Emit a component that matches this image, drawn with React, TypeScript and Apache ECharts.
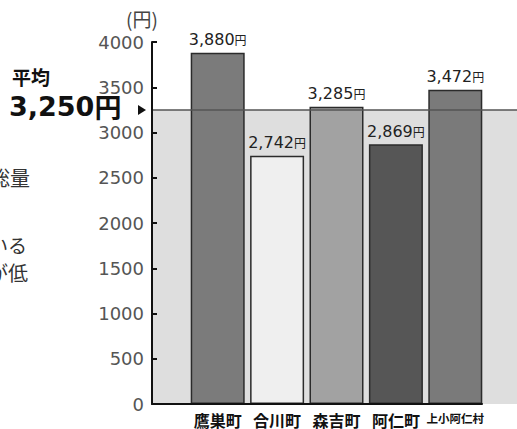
import React, { useEffect, useRef } from "react";
import * as echarts from "echarts";

// Monthly price per town (円)
const categories = ["鷹巣町", "合川町", "森吉町", "阿仁町", "上小阿仁村"];
const prices = [3880, 2742, 3285, 2869, 3472];
const barColors = ["#7b7b7b", "#efefef", "#a2a2a2", "#565656", "#7a7a7a"];
const average = 3250;
const yMin = 0;
const yMax = 4000;
const yInterval = 500;

const fmt = (v: number) => v.toLocaleString("en-US");

const CJK = "'Noto Sans CJK JP', sans-serif";
const NUM = "'DejaVu Sans', sans-serif";

export default function App() {
  const ref = useRef<HTMLDivElement>(null);

  useEffect(() => {
    if (!ref.current) return;
    const chart = echarts.init(ref.current, undefined, { renderer: "svg" });

    const top = 42;
    const bottom = 25;

    chart.setOption({
      animation: false,
      backgroundColor: "#ffffff",
      grid: [
        { left: 152, right: 0, top, bottom },
        { left: 152, right: 35, top, bottom },
        { left: 188, width: 297, top, bottom },
      ],
      xAxis: [
        { gridIndex: 0, type: "value", min: 0, max: 1, show: false },
        {
          gridIndex: 1,
          type: "value",
          min: 0,
          max: 1,
          z: 5,
          axisLine: { show: true, lineStyle: { color: "#111", width: 2 } },
          axisTick: { show: false },
          axisLabel: { show: false },
          splitLine: { show: false },
        },
        {
          gridIndex: 2,
          type: "category",
          data: categories,
          axisLine: { show: false },
          axisTick: { show: false },
          axisLabel: {
            margin: 8,
            interval: 0,
            fontFamily: CJK,
            fontSize: 16,
            fontWeight: "bold",
            color: "#111",
            formatter: (v: string) => (v.length > 4 ? `{s|${v}}` : v),
            rich: {
              s: { fontFamily: CJK, fontSize: 11.5, fontWeight: "bold", color: "#111" },
            },
          },
        },
      ],
      yAxis: [
        {
          gridIndex: 0,
          type: "value",
          min: yMin,
          max: yMax,
          interval: yInterval,
          z: 5,
          axisLine: { show: true, lineStyle: { color: "#111", width: 2 } },
          axisTick: { show: true, inside: true, length: 5, lineStyle: { color: "#111", width: 2 } },
          axisLabel: {
            fontFamily: NUM,
            fontSize: 18,
            lineHeight: 14,
            color: "#555",
            margin: 8,
            formatter: (v: number) => String(v),
          },
          splitLine: { show: false },
        },
        { gridIndex: 1, type: "value", min: yMin, max: yMax, show: false },
        { gridIndex: 2, type: "value", min: yMin, max: yMax, show: false },
      ],
      series: [
        {
          type: "line",
          xAxisIndex: 0,
          yAxisIndex: 0,
          data: [],
          markArea: {
            silent: true,
            itemStyle: { color: "#dedede" },
            data: [[{ yAxis: yMin }, { yAxis: average }]],
          },
          markLine: {
            silent: true,
            symbol: "none",
            label: { show: false },
            lineStyle: { color: "#555", width: 1.5, type: "solid" },
            data: [{ yAxis: average }],
          },
        },
        {
          type: "bar",
          xAxisIndex: 2,
          yAxisIndex: 2,
          barWidth: 54,
          data: prices.map((v, i) => ({ value: v, itemStyle: { color: barColors[i] } })),
          itemStyle: { borderColor: "#2b2b2b", borderWidth: 1.5 },
          label: {
            show: true,
            position: "top",
            distance: 5,
            formatter: (p: any) => `{n|${fmt(p.value)}}{u|円}`,
            rich: {
              n: { fontFamily: NUM, fontSize: 16, color: "#222" },
              u: { fontFamily: CJK, fontSize: 12, color: "#222" },
            },
          },
        },
      ],
    });

    const avgY = chart.convertToPixel({ yAxisIndex: 0 } as any, average) as number;

    chart.setOption({
      graphic: [
        {
          type: "text",
          x: 142,
          y: 18,
          style: { text: "(円)", font: `19px ${CJK}`, fill: "#444", align: "center", verticalAlign: "middle" },
        },
        {
          type: "text",
          x: 12,
          y: 76,
          style: { text: "平均", font: `bold 19px ${CJK}`, fill: "#111", verticalAlign: "middle" },
        },
        {
          type: "text",
          x: 9,
          y: avgY - 3,
          style: {
            text: `{n|${fmt(average)}}{u|円}`,
            verticalAlign: "middle",
            rich: {
              n: { fontFamily: NUM, fontSize: 27, fontWeight: "bold", fill: "#111", lineHeight: 20 },
              u: { fontFamily: CJK, fontSize: 27, fontWeight: "bold", fill: "#111", lineHeight: 20 },
            },
          },
        },
        {
          type: "polygon",
          shape: { points: [[138, avgY - 5], [146, avgY], [138, avgY + 5]] },
          style: { fill: "#111" },
        },
        {
          type: "text",
          x: -10,
          y: 177,
          style: { text: "総量", font: `20px ${CJK}`, fill: "#333", verticalAlign: "middle" },
        },
        {
          type: "text",
          x: -11,
          y: 244,
          style: { text: "いる", font: `19px ${CJK}`, fill: "#333", verticalAlign: "middle" },
        },
        {
          type: "text",
          x: -12,
          y: 272,
          style: { text: "が低", font: `20px ${CJK}`, fill: "#333", verticalAlign: "middle" },
        },
      ],
    });

    return () => chart.dispose();
  }, []);

  return (
    <div
      ref={ref}
      style={{ position: "fixed", left: 0, top: 0, width: 517, height: 429 }}
    />
  );
}
